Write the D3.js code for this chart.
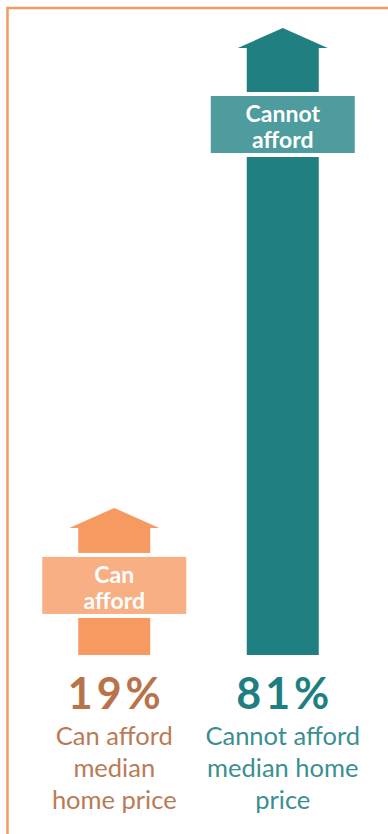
<!DOCTYPE html>
<html>
<head>
<meta charset="utf-8">
<script src="https://cdn.jsdelivr.net/npm/d3@7"></script>
<style>
  body { margin: 0; background: #fff; }
  text { font-family: Lato, "Open Sans", sans-serif; }
</style>
</head>
<body>
<div id="chart"></div>
<script>
// data
const categories = ["Can afford", "Cannot afford"];
const values = [19, 81];
const boxLabels = [["Can", "afford"], ["Cannot", "afford"]];
const captions = [["Can afford", "median", "home price"], ["Cannot afford", "median home", "price"]];
const shaftColors = ["#f69a62", "#207f80"];
const boxColors = ["#f8af83", "#4e9c9d"];
const pctColors = ["#b8734a", "#1f7f80"];
const captionColors = ["#bb7a55", "#3a8f90"];

const width = 388, height = 834;
const baseY = 655;
const shaftW = 72, headW = 90, headH = 20;
const boxW = 144, boxH = 57;
const boxGap = [29, 48]; // gap from arrow-head base to label box

const svg = d3.select("#chart").append("svg")
  .attr("width", width)
  .attr("height", height);

// frame (only top and left show)
svg.append("path")
  .attr("d", `M${width},8 H7.5 V${height}`)
  .attr("fill", "none")
  .attr("stroke", "#f59a5e")
  .attr("stroke-width", 2.5);

const x = d3.scaleBand().domain(categories).range([30, 367]);
const y = d3.scaleLinear().domain([0, 81]).range([baseY, 28]);

const data = categories.map((c, i) => ({ cat: c, value: values[i], i }));

const g = svg.selectAll(".arrow").data(data).enter().append("g")
  .attr("class", "arrow")
  .attr("transform", d => `translate(${x(d.cat) + x.bandwidth() / 2},0)`);

// shaft
g.append("rect")
  .attr("x", -shaftW / 2)
  .attr("y", d => y(d.value) + headH)
  .attr("width", shaftW)
  .attr("height", d => baseY - y(d.value) - headH)
  .attr("fill", d => shaftColors[d.i]);

// head
g.append("path")
  .attr("d", d => {
    const t = y(d.value);
    return `M0,${t} L${headW / 2},${t + headH} L${-headW / 2},${t + headH} Z`;
  })
  .attr("fill", d => shaftColors[d.i]);

// label box with white gap
const boxTop = d => y(d.value) + headH + boxGap[d.i];
g.append("rect")
  .attr("x", -boxW / 2 - 4)
  .attr("y", d => boxTop(d) - 4)
  .attr("width", boxW + 8)
  .attr("height", boxH + 8)
  .attr("fill", "#fff");
g.append("rect")
  .attr("x", -boxW / 2)
  .attr("y", boxTop)
  .attr("width", boxW)
  .attr("height", boxH)
  .attr("fill", d => boxColors[d.i]);

g.each(function(d) {
  const t = d3.select(this).append("text")
    .attr("text-anchor", "middle")
    .attr("fill", "#fff")
    .attr("font-weight", 700)
    .attr("font-size", 23);
  boxLabels[d.i].forEach((s, k) => {
    t.append("tspan").attr("x", 0).attr("y", boxTop(d) + 26 + k * 26).text(s);
  });
});

// percentages
g.append("text")
  .attr("text-anchor", "middle")
  .attr("x", 2)
  .attr("y", 709)
  .attr("fill", d => pctColors[d.i])
  .attr("font-weight", 700)
  .attr("font-size", 43)
  .attr("letter-spacing", 4)
  .text(d => d.value + "%");

// captions
g.each(function(d) {
  const t = d3.select(this).append("text")
    .attr("text-anchor", "middle")
    .attr("fill", captionColors[d.i])
    .attr("font-size", 25.5);
  captions[d.i].forEach((s, k) => {
    t.append("tspan").attr("x", 0).attr("y", 745 + k * 32).text(s);
  });
});
</script>
</body>
</html>
